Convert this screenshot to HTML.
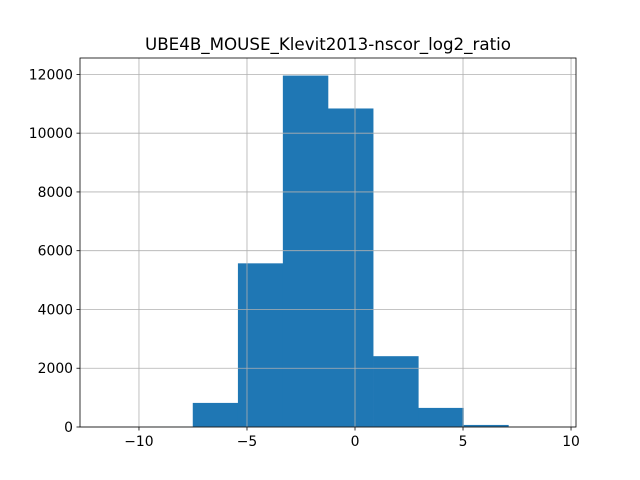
<!DOCTYPE html>
<html><head><meta charset="utf-8"><style>body{margin:0;background:#fff}svg{display:block;font-family:"DejaVu Sans","Liberation Sans",sans-serif}</style></head>
<body>
<svg id="c" width="640" height="480"></svg>
<script>
const binEdges=[-11.69,-9.60,-7.51,-5.42,-3.34,-1.25,0.84,2.93,5.02,7.10,9.19];
const counts=[3,8,820,5570,11960,10840,2410,650,70,5];
const xTicks=[-10,-5,0,5,10];
const yTicks=[0,2000,4000,6000,8000,10000,12000];
const L=80,R=576,T=58,B=427;
const xmin=-12.73,xmax=10.23,ymax=12558;
const X=v=>L+(v-xmin)/(xmax-xmin)*(R-L);
const Y=v=>B-v/ymax*(B-T);
const s=document.getElementById('c');const NS='http://www.w3.org/2000/svg';
function el(t,a,p){const e=document.createElementNS(NS,t);for(const k in a)e.setAttribute(k,a[k]);(p||s).appendChild(e);return e;}
counts.forEach((c,i)=>{const x0=X(binEdges[i]);const r=el('rect',{x:x0,y:Y(c),width:X(binEdges[i+1])-x0+0.3,height:B-Y(c),fill:'#1f77b4'});

});
xTicks.forEach(t=>{const x=X(t);
const g=el('line',{x1:x,x2:x,y1:T,y2:B,stroke:'#b0b0b0','stroke-width':0.8});


el('line',{x1:x,x2:x,y1:B,y2:B+3.5,stroke:'#000','stroke-width':0.8});
const tx=el('text',{x:x,y:B+19,'text-anchor':'middle','font-size':13.9});tx.textContent=(t<0?'\u2212'+(-t):t);

});
yTicks.forEach(t=>{const y=Y(t);
const g=el('line',{x1:L,x2:R,y1:y,y2:y,stroke:'#b0b0b0','stroke-width':0.8});


el('line',{x1:L-3.5,x2:L,y1:y,y2:y,stroke:'#000','stroke-width':0.8});
const tx=el('text',{x:L-7,y:y+5,'text-anchor':'end','font-size':13.9});tx.textContent=t;

});
const f=el('rect',{x:L,y:T,width:R-L,height:B-T,fill:'none',stroke:'#000','stroke-width':0.8});


const ti=el('text',{x:(L+R)/2,y:T-8,'text-anchor':'middle','font-size':16.7});ti.textContent='UBE4B_MOUSE_Klevit2013-nscor_log2_ratio';


</script>
</body></html>
